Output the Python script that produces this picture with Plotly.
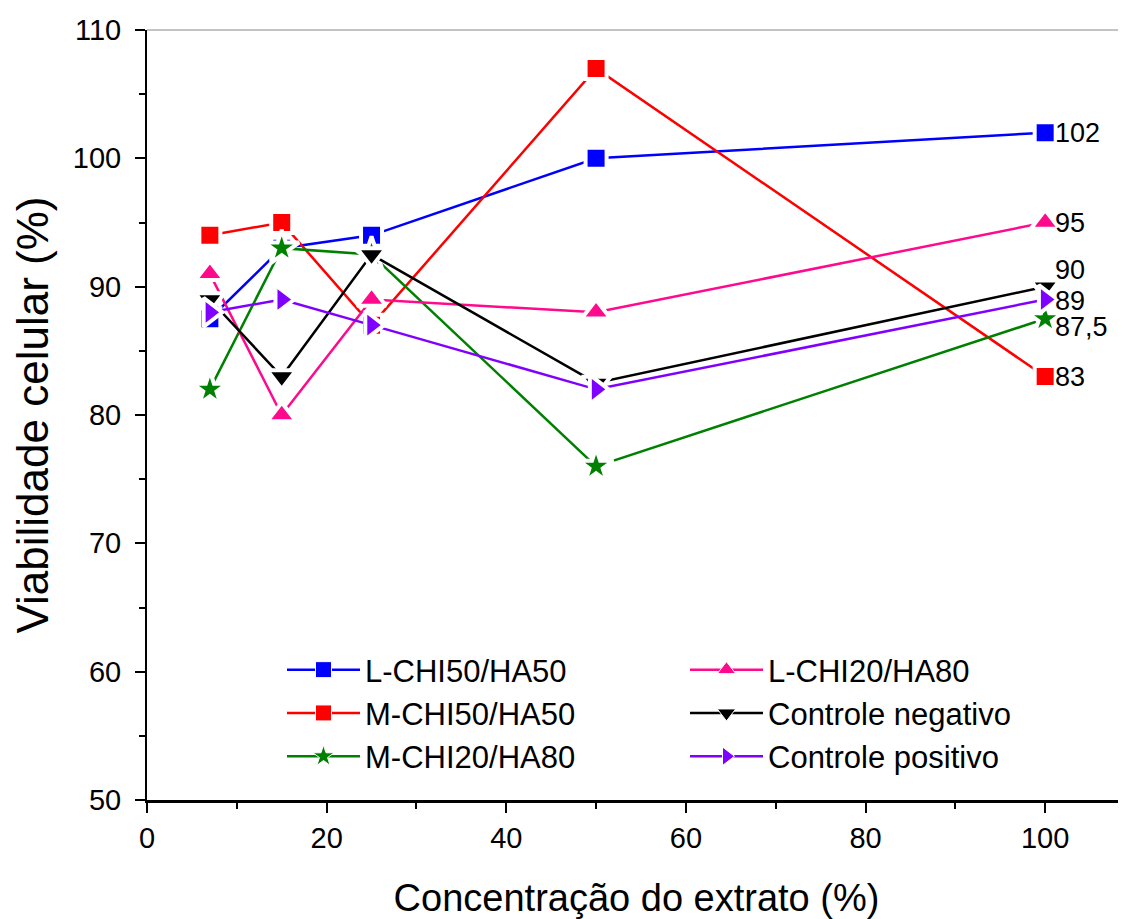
import plotly.graph_objects as go

x_conc = [7, 15, 25, 50, 100]

l_chi50 = [87.5, 93, 94, 100, 102]
m_chi50 = [94, 95, 87, 107, 83]
m_chi20 = [82, 93, 92.5, 76, 87.5]
l_chi20 = [91, 80, 89, 88, 95]
ctrl_neg = [89, 83, 92.5, 82.5, 90]
ctrl_pos = [88, 89, 87, 82, 89]

names = ["L-CHI50/HA50", "M-CHI50/HA50", "M-CHI20/HA80",
         "L-CHI20/HA80", "Controle negativo", "Controle positivo"]
series = [l_chi50, m_chi50, m_chi20, l_chi20, ctrl_neg, ctrl_pos]
colors = ["#0000FF", "#FF0000", "#008000", "#FF0A8C", "#000000", "#8000FF"]
symbols = ["square", "square", "star", "triangle-up", "triangle-down", "triangle-right"]
sizes = [21, 21, 26, 25, 25, 25]
legends = ["legend", "legend", "legend", "legend2", "legend2", "legend2"]

# label offsets for the right-end value labels (pixels)
label_yshift = [0, 0, -8, 0, 17, -1]

FONT = "Liberation Sans, Arial, sans-serif"

fig = go.Figure()
for nm, ys, c, s, sz in zip(names, series, colors, symbols, sizes):
    fig.add_trace(go.Scatter(
        x=x_conc, y=ys, name=nm, mode="lines+markers", showlegend=False,
        line=dict(color=c, width=2.5),
        marker=dict(symbol=s, size=sz, color=c, line=dict(color="white", width=4)),
    ))

# legend entries (no data points of their own)
for nm, c, s, lg in zip(names, colors, symbols, legends):
    fig.add_trace(go.Scatter(
        x=[None], y=[None], name=nm, mode="lines+markers", legend=lg,
        line=dict(color=c, width=2.5),
        marker=dict(symbol=s, size=20, color=c, line=dict(color="white", width=1)),
    ))

annotations = []
for ys, dy in zip(series, label_yshift):
    v = ys[-1]
    annotations.append(dict(
        x=x_conc[-1], y=v, xref="x", yref="y", text=f"{v:g}".replace(".", ","),
        showarrow=False, xanchor="left", yanchor="middle", xshift=8, yshift=dy,
        font=dict(family=FONT, size=27, color="black"),
    ))

fig.update_layout(
    width=1118, height=911,
    margin=dict(l=139, r=0, t=22, b=119),
    paper_bgcolor="white", plot_bgcolor="white",
    font=dict(family=FONT, size=29, color="black"),
    showlegend=True,
    legend=dict(x=(282 - 147) / 979, y=(800 - 643) / 770, xanchor="left", yanchor="top",
                bgcolor="rgba(0,0,0,0)", font=dict(size=31), itemwidth=73,
                tracegroupgap=0),
    legend2=dict(x=(685 - 147) / 979, y=(800 - 643) / 770, xanchor="left", yanchor="top",
                 bgcolor="rgba(0,0,0,0)", font=dict(size=31), itemwidth=73,
                 tracegroupgap=0),
    annotations=annotations,
    shapes=[dict(type="line", xref="paper", yref="paper", x0=0, x1=1, y0=1, y1=1,
                 line=dict(color="#888888", width=1))],
)

fig.update_xaxes(
    range=[0, 109], dtick=20, tick0=0, showgrid=False, zeroline=False,
    showline=True, linecolor="black", linewidth=3,
    ticks="outside", ticklen=10, tickwidth=2, tickcolor="black",
    minor=dict(dtick=10, ticks="outside", ticklen=6, tickwidth=2, tickcolor="black"),
    tickfont=dict(size=29),
    title=dict(text="Concentração do extrato (%)", font=dict(size=38), standoff=33),
)
fig.update_yaxes(
    range=[50, 110], dtick=10, showgrid=False, zeroline=False,
    showline=True, linecolor="black", linewidth=2,
    ticks="outside", ticklen=10, tickwidth=2, tickcolor="black", ticklabelstandoff=8,
    minor=dict(dtick=5, ticks="outside", ticklen=6, tickwidth=2, tickcolor="black"),
    tickfont=dict(size=29),
    title=dict(text="Viabilidade celular (%)", font=dict(size=44), standoff=14),
)

fig.write_html("out.html")
